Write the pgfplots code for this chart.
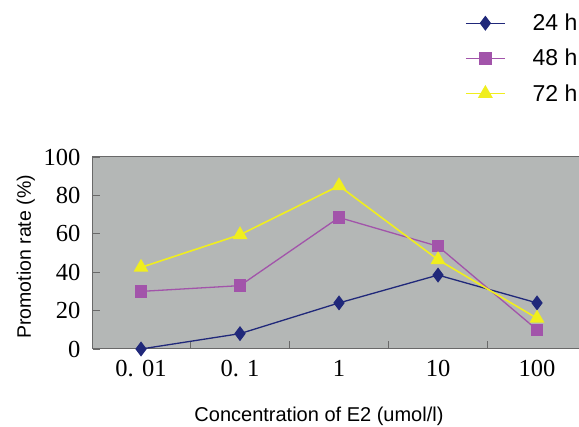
\documentclass[border=0pt]{standalone}
\usepackage{fontspec}
\setmainfont{Liberation Sans}
\newfontfamily\serifnum{Liberation Serif}
\usepackage{pgfplots}
\pgfplotsset{compat=1.18}
\definecolor{navyline}{RGB}{32,40,122}
\definecolor{magline}{RGB}{162,84,170}
\definecolor{yelline}{RGB}{240,238,30}
\definecolor{plotbg}{RGB}{180,183,182}
\definecolor{framec}{RGB}{105,105,105}

\begin{document}
\begin{tikzpicture}[x=1pt,y=1pt]
\useasboundingbox (0,0) rectangle (579,427);
\begin{axis}[
  at={(93pt,78pt)}, anchor=south west,
  scale only axis, width=486pt, height=192pt,
  xmin=-0.485, xmax=4.424, ymin=0, ymax=100,
  xtick={0,1,2,3,4},
  xticklabels={0. 01, 0. 1, 1, 10, 100},
  minor xtick={0.5,1.5,2.5,3.5},
  ytick={0,20,...,100},
  major x tick style={draw=none},
  tick align=inside, xtick pos=bottom, ytick pos=left,
  minor tick length=8pt, major tick length=7pt,
  tick style={framec, line width=0.8pt},
  axis background/.style={fill=plotbg},
  axis line style={framec, line width=1pt},
  ticklabel style={font=\serifnum\fontsize{24.5}{27}\selectfont},
  /pgf/number format/assume math mode=true,
  xticklabel shift=8pt, yticklabel shift=9pt,
  xlabel={Concentration of E2 (umol/l)},
  xlabel style={at={(axis description cs:0.465,-0.380)}, anchor=base,
    font=\fontsize{20}{24}\selectfont},
  ylabel={Promotion rate (\%)},
  ylabel style={at={(axis description cs:-0.128,0.48)}, anchor=base,
    font=\fontsize{19.5}{24}\selectfont},
  clip=false,
  legend style={at={(axis description cs:0.759,1.766)}, anchor=north west,
    draw=none, fill=white, font=\fontsize{23}{26}\selectfont,
    row sep=13pt, /tikz/every odd column/.append style={column sep=25pt}},
  legend cell align=left,
  legend image code/.code={\draw[mark repeat=2,mark phase=2]
    plot coordinates {(0pt,0pt)(19.5pt,0pt)(39pt,0pt)};},
]
\addplot[navyline, line width=1.3pt, mark=diamond*, mark size=6.5pt,
  mark options={fill=navyline, draw=navyline}] coordinates {
  (0,0) (1,8) (2,24) (3,38.5) (4,24)
};
\addlegendentry{24 h}
\addplot[magline, line width=1.3pt, mark=square*, mark size=5.5pt,
  mark options={fill=magline, draw=magline}] coordinates {
  (0,30) (1,33) (2,68.5) (3,53.5) (4,10)
};
\addlegendentry{48 h}
\addplot[yelline, line width=1.6pt, mark=triangle*, mark size=7pt,
  mark options={fill=yelline, draw=yelline}] coordinates {
  (0,42.5) (1,59.5) (2,85) (3,46.5) (4,16)
};
\addlegendentry{72 h}
\end{axis}
\end{tikzpicture}
\end{document}
